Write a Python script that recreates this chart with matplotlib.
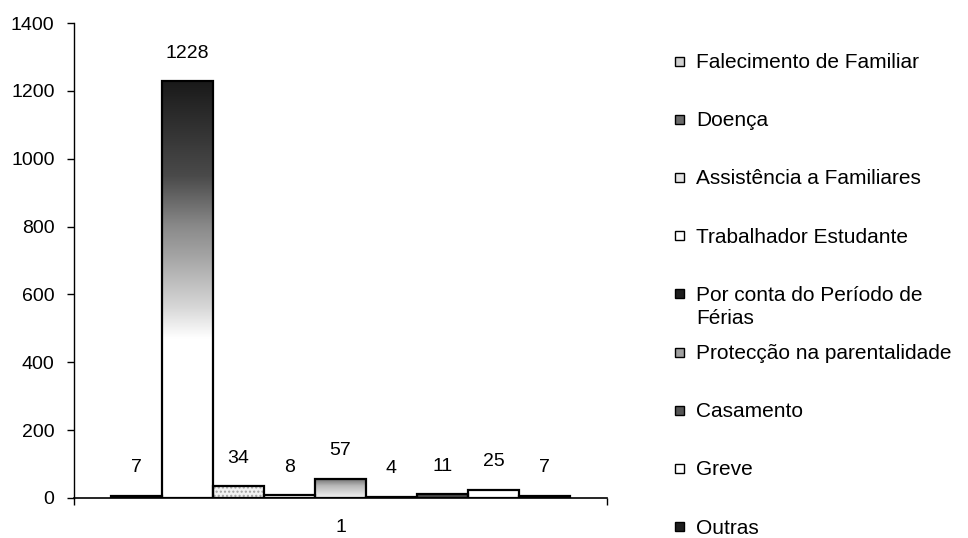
import numpy as np
import matplotlib
matplotlib.use("Agg")
import matplotlib.pyplot as plt
from matplotlib.patches import Rectangle
from matplotlib.colors import LinearSegmentedColormap

plt.rcParams['font.family'] = ['Liberation Sans', 'DejaVu Sans']

# Absence reasons (one category, nine series)
categories = ["1"]
series_names = [
    "Falecimento de Familiar",
    "Doença",
    "Assistência a Familiares",
    "Trabalhador Estudante",
    "Por conta do Período de Férias",
    "Protecção na parentalidade",
    "Casamento",
    "Greve",
    "Outras",
]
series_values = [7, 1228, 34, 8, 57, 4, 11, 25, 7]
y_ticks = [0, 200, 400, 600, 800, 1000, 1200, 1400]

# Fill styles per series
face_colors = ["#c8c8c8", "#ffffff", "#f2f2f2", "#ffffff", "#ffffff",
               "#9a9a9a", "#4a4a4a", "#ffffff", "#1e1e1e"]
legend_colors = ["#d0d0d0", "#6a6a6a", "#e4e4e4", "#ffffff", "#1e1e1e",
                 "#a0a0a0", "#555555", "#ffffff", "#1e1e1e"]
# gradient fills: series index -> list of (value, colour) stops
gradients = {
    1: [(0, "#ffffff"), (470, "#ffffff"), (560, "#d8d8d8"), (700, "#a8a8a8"),
        (800, "#8a8a8a"), (950, "#4a4a4a"), (1228, "#1a1a1a")],
    4: [(0, "#f4f4f4"), (35, "#b8b8b8"), (57, "#6a6a6a")],
}

W, H = 968, 538
fig = plt.figure(figsize=(W / 100, H / 100), dpi=100)
ax = fig.add_axes([74 / W, 1 - 498 / H, (607 - 74) / W, (498 - 23) / H])

n = len(series_values)
group_width = 0.861
bar_w = group_width / n
x_center = 1.0
offsets = (np.arange(n) - (n - 1) / 2) * bar_w

for i, (val, fc) in enumerate(zip(series_values, face_colors)):
    xpos = x_center + offsets[i]
    bar = ax.bar(xpos, val, width=bar_w, color=fc, edgecolor="none",
                 linewidth=0, zorder=2)[0]
    if i in gradients:
        stops = gradients[i]
        vmax = val
        cmap = LinearSegmentedColormap.from_list(
            f"g{i}", [(v / vmax, c) for v, c in stops])
        grad = np.linspace(0, 1, 256).reshape(-1, 1)
        im = ax.imshow(grad, cmap=cmap, origin="lower", aspect="auto",
                       extent=[xpos - bar_w / 2, xpos + bar_w / 2, 0, val],
                       zorder=2.5, interpolation="bilinear")
        im.set_clip_path(bar)
    if i == 2:
        ax.bar(xpos, val, width=bar_w, color="none", edgecolor="#a0a0a0",
               hatch="....", linewidth=0, zorder=2.6)
    ax.bar(xpos, val, width=bar_w, color="none", edgecolor="black",
           linewidth=1.6, zorder=3)
    ax.annotate(str(val), (xpos, val), xytext=(0, 20), textcoords="offset points",
                ha="center", va="center", fontsize=14, zorder=4)

ax.set_xlim(0.5, 1.5)
ax.set_ylim(0, 1400)
ax.set_yticks(y_ticks)
ax.set_yticklabels([str(t) for t in y_ticks], fontsize=14)
ax.set_xticks([x_center])
ax.set_xticklabels(categories, fontsize=14)
ax.set_xticks([0.5, 1.5], minor=True)
ax.tick_params(axis="x", which="major", length=0, pad=15)
ax.tick_params(axis="x", which="minor", length=5, direction="out", width=1)
ax.tick_params(axis="y", length=5, direction="out", width=1, pad=9)
for side in ("top", "right"):
    ax.spines[side].set_visible(False)
ax.spines["left"].set_linewidth(1)
ax.spines["bottom"].set_linewidth(1.2)

# Legend: evenly spaced entries, wrapped text hangs below its marker
legend_labels = [s.replace("Período de Férias", "Período de\nFérias") for s in series_names]
y0, dy = 61, 58.2
for i, (lab, col) in enumerate(zip(legend_labels, legend_colors)):
    yc = y0 + dy * i
    fig.patches.append(Rectangle((675 / W, 1 - (yc + 4.5) / H), 9 / W, 9 / H,
                                 transform=fig.transFigure, facecolor=col,
                                 edgecolor="black", linewidth=1))
    fig.text(696 / W, 1 - (yc - 8) / H, lab, fontsize=15, ha="left",
             va="top", linespacing=1.3)

fig.savefig("out.png", dpi=100)
